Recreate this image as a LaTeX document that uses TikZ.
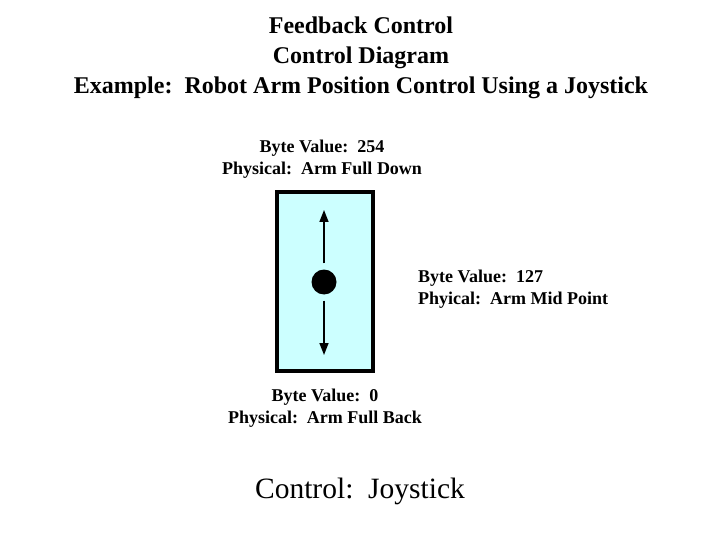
\documentclass[tikz,border=0pt]{standalone}
\usepackage{fontspec}
\setmainfont{Liberation Serif}[BoldFont = {Liberation Serif Bold}]
\usetikzlibrary{arrows.meta}
\definecolor{stickcyan}{RGB}{204,255,255}
\frenchspacing
\tikzset{
	titletext/.style = {font=\bfseries\fontsize{24}{30}\selectfont, align=center, inner sep=0pt},
	valuetext/.style = {font=\bfseries\fontsize{18}{22}\selectfont, inner sep=0pt},
	travel/.style = {-{Triangle[width=9pt, length=12pt]}, line width=1.5pt, shorten <=6pt}
}
\begin{document}
\begin{tikzpicture}[x = 1pt, y = -1pt]
	\useasboundingbox[fill = white] (0, 0) rectangle (720, 540);
	% heading
	\node[titletext] (title) at (361, 58) {Feedback Control\\Control Diagram\\Example:~ Robot Arm Position Control Using a Joystick};
	% joystick
	\node[draw, line width = 4pt, fill = stickcyan, minimum width = 96pt, minimum height = 179pt, inner sep = 0pt] (stick) at (324.5, 281.5) {};
	\node[circle, fill, minimum size = 25pt, inner sep = 0pt] (knob) at (324, 282) {};
	\coordinate (up) at (324, 210);
	\coordinate (down) at (324, 355);
	\draw[travel] (knob) -- (up);
	\draw[travel] (knob) -- (down);
	% positions
	\node[valuetext, align = center] (full down) at (322, 159) {Byte Value:~ 254\\Physical:~ Arm Full Down};
	\node[valuetext, align = left, anchor = west] (mid point) at (418, 289) {Byte Value:~ 127\\Phyical:~ Arm Mid Point};
	\node[valuetext, align = center] (full back) at (325, 408) {Byte Value:~ 0\\Physical:~ Arm Full Back};
	\node[font = \fontsize{29.5}{34}\selectfont, inner sep = 0pt] (control) at (360, 491) {Control:~ Joystick};
\end{tikzpicture}
\end{document}
